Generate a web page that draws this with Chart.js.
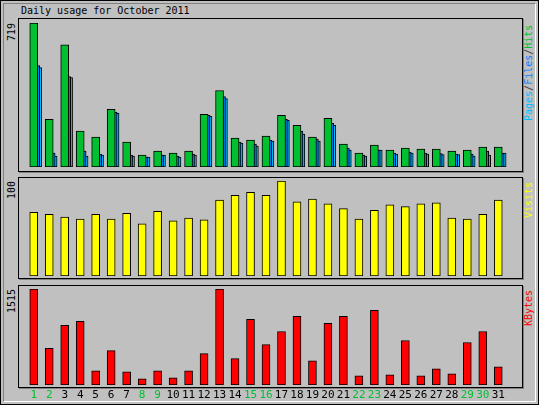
<!DOCTYPE html>
<html><head><meta charset="utf-8">
<script src="https://cdn.jsdelivr.net/npm/chart.js@4"></script>
<style>
html,body{margin:0;padding:0;background:#C0C0C0;}
#wrap{position:relative;width:539px;height:405px;background:#C0C0C0;box-sizing:border-box;border:1px solid #000;font-family:"DejaVu Sans Mono",monospace;overflow:hidden;}
#inner{position:absolute;left:2px;top:2px;right:2px;bottom:2px;border:1px solid #808080;border-right-color:#fff;border-bottom-color:#fff;}
.frame{position:absolute;left:17px;width:503px;border:1px solid #000;box-shadow:1px 1px 0 #808080;}
canvas{position:absolute;}
.rot{position:absolute;transform-origin:0 0;transform:rotate(-90deg);white-space:nowrap;font-size:10px;line-height:10px;}
#title{position:absolute;left:20px;top:5px;font-size:10px;line-height:10px;color:#000;}
</style></head><body>
<div id="wrap">
<div id="inner"></div>
<div id="title">Daily usage for October 2011</div>
<div class="frame" style="top:17px;height:152px"></div>
<div class="frame" style="top:176px;height:100px"></div>
<div class="frame" style="top:284px;height:101px"></div>
<canvas id="c1" width="504" height="152" style="left:17px;top:18px"></canvas>
<canvas id="c2" width="504" height="100" style="left:17px;top:177px"></canvas>
<canvas id="c3" width="504" height="120" style="left:17px;top:285px"></canvas>
<div class="rot" style="left:6px;top:40px">719</div>
<div class="rot" style="left:6px;top:198px">100</div>
<div class="rot" style="left:6px;top:312px">1515</div>
<div class="rot" style="left:523px;top:120px"><span style="color:#00C0FF">Pages</span><span style="color:#404040">/</span><span style="color:#0080FF">Files</span><span style="color:#404040">/</span><span style="color:#00C030">Hits</span></div>
<div class="rot" style="left:523px;top:217px;color:#FFFF00">Visits</div>
<div class="rot" style="left:523px;top:325px;color:#FF0000">KBytes</div>
</div>
<script>
const days = Array.from({length:31},(_,i)=>i+1);
const weekendDays = [1,2,8,9,15,16,22,23,29,30];
const hits  = [719,238,610,179,149,288,124,60,79,69,79,263,382,144,134,154,258,208,149,243,114,69,109,84,94,89,89,79,84,99,99];
const files = [506,69,451,79,64,273,60,50,60,55,64,258,352,124,114,134,238,179,139,218,94,60,84,69,74,69,67,64,64,79,69];
const pages = [496,55,446,55,60,268,55,50,60,50,60,253,342,119,104,129,233,164,129,208,84,55,84,64,69,64,62,62,55,60,69];
const visits = [67,65,62,60,65,60,66,55,68,58,61,59,80,85,88,85,100,78,81,76,71,60,69,75,73,76,77,61,60,65,80];
const kbytes = [1515,579,941,1005,223,542,207,96,223,112,223,494,1515,415,1037,638,845,1084,383,973,1084,144,1180,160,702,144,255,176,670,845,287];
const maxHits = 719, maxVisits = 100, maxKB = 1515;

Chart.defaults.devicePixelRatio = 1;
Chart.defaults.animation = false;

function xs(show){
  return {type:'linear',min:0.5,max:31.5,display:show,
    grid:{display:false,drawTicks:false},border:{display:false},
    afterBuildTicks:a=>{a.ticks=days.map(v=>({value:v}));},
    afterFit:a=>{if(show)a.height=21;},
    ticks:{padding:4,autoSkip:false,maxRotation:0,
      font:{family:"DejaVu Sans Mono",size:11},
      color:c=>weekendDays.includes(c.tick.value)?'#00C030':'#000',
      callback:v=>String(v)}};
}
function ys(max){return {min:0,max:max,display:false};}
function ds(vals,color,off){
  return {data:vals.map((v,i)=>({x:days[i]+off,y:v})),grouped:false,backgroundColor:color,borderColor:'#000',borderWidth:1,borderSkipped:false,barThickness:8};
}
function mk(id,datasets,max,showX,pad){
  new Chart(document.getElementById(id),{type:'bar',data:{datasets},
    options:{responsive:false,
      datasets:{bar:{grouped:false}},
      layout:{padding:pad},
      plugins:{legend:{display:false},tooltip:{enabled:false}},
      scales:{x:xs(showX),y:ys(max)}}});
}
mk('c1',[ds(hits,'#00C030',0),ds(files,'#0080FF',0.125),ds(pages,'#00C0FF',0.25)],maxHits,false,{top:4,bottom:4,left:0,right:8});
mk('c2',[ds(visits,'#FFFF00',0)],maxVisits,false,{top:3,bottom:2,left:0,right:8});
mk('c3',[ds(kbytes,'#FF0000',0)],maxKB,true,{top:3,bottom:0,left:0,right:8});
</script>
</body></html>
